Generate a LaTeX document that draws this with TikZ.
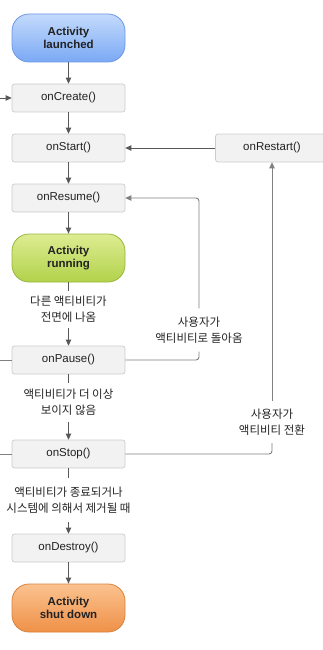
\documentclass[tikz,border=0pt]{standalone}
\usepackage{fontspec}
\setmainfont{Liberation Sans}
\newfontfamily\kr{Noto Sans CJK KR}
\usetikzlibrary{arrows.meta}
\definecolor{boxfill}{HTML}{F2F2F2}
\definecolor{boxline}{HTML}{CCCCCC}
\definecolor{arrgray}{HTML}{585858}
\definecolor{loopgray}{HTML}{808080}
\definecolor{txt}{HTML}{222222}
\definecolor{blueT}{HTML}{C4DAFC}
\definecolor{blueB}{HTML}{7AA9F4}
\definecolor{blueD}{HTML}{6C98E4}
\definecolor{greenT}{HTML}{DDEC92}
\definecolor{greenB}{HTML}{B2D24A}
\definecolor{greenD}{HTML}{98B640}
\definecolor{orangeT}{HTML}{FBC28F}
\definecolor{orangeB}{HTML}{EF9148}
\definecolor{orangeD}{HTML}{D8823E}
\tikzset{
  box/.style={draw=boxline, fill=boxfill, rounded corners=2.5pt, line width=0.7pt,
    minimum width=113pt, minimum height=28pt, inner sep=0pt, text=txt,
    font=\fontsize{11.5}{13}\selectfont},
  pill/.style={rounded corners=17pt, line width=0.8pt, minimum width=113pt,
    minimum height=48pt, inner sep=0pt, align=center, text=txt,
    font=\bfseries\fontsize{11.5}{13}\selectfont},
  lbl/.style={font=\kr\fontsize{11.5}{16}\selectfont, align=center, inner sep=0pt, text=txt},
  arr/.style={draw=arrgray, line width=0.9pt, -{Triangle[length=6pt,width=5.5pt]}},
  seg/.style={draw=arrgray, line width=0.9pt},
  looparr/.style={draw=loopgray, line width=0.9pt, rounded corners=3pt, -{Triangle[length=6pt,width=5.5pt]}},
  loopseg/.style={draw=loopgray, line width=0.9pt, rounded corners=3pt}
}
\begin{document}
\begin{tikzpicture}[x=1pt,y=-1pt]
\useasboundingbox (0,0) rectangle (323,650);
\node[pill, draw=blueD, top color=blueT, bottom color=blueB] (launched) at (68.5,38) {Activity\\launched};
\node[box] (create) at (68.5,98) {onCreate()};
\node[box] (start) at (68.5,148) {onStart()};
\node[box] (resume) at (68.5,198) {onResume()};
\node[pill, draw=greenD, top color=greenT, bottom color=greenB] (running) at (68.5,258) {Activity\\running};
\node[lbl, minimum height=37pt] (l1) at (68.5,309.5) {다른 액티비티가\\전면에 나옴};
\node[box] (pause) at (68.5,360) {onPause()};
\node[lbl, minimum height=39pt] (l2) at (68.5,402.5) {액티비티가 더 이상\\보이지 않음};
\node[box] (stop) at (68.5,454) {onStop()};
\node[lbl, minimum height=44pt] (l3) at (68.5,500) {액티비티가 종료되거나\\시스템에 의해서 제거될 때};
\node[box] (destroy) at (68.5,548) {onDestroy()};
\node[pill, draw=orangeD, top color=orangeT, bottom color=orangeB] (shut) at (68.5,608) {Activity\\shut down};
\node[box] (restart) at (272,148) {onRestart()};
\node[lbl, minimum height=43pt] (l4) at (199,330) {사용자가\\액티비티로 돌아옴};
\node[lbl, minimum height=42pt] (l5) at (272,422) {사용자가\\액티비티 전환};
\coordinate (inC) at (0,98);
\coordinate (outP) at (0,360);
\coordinate (outS) at (0,454);

\draw[arr] (launched) -- (create);
\draw[arr] (create) -- (start);
\draw[arr] (start) -- (resume);
\draw[arr] (resume) -- (running);
\draw[seg] (running) -- (l1);
\draw[arr] (l1) -- (pause);
\draw[seg] (pause) -- (l2);
\draw[arr] (l2) -- (stop);
\draw[seg] (stop) -- (l3);
\draw[arr] (l3) -- (destroy);
\draw[arr] (destroy) -- (shut);
\draw[arr] (inC) -- (create.west);
\draw[loopseg] (pause.west) -- (outP);
\draw[loopseg] (stop.west) -- (outS);
\draw[arr] (restart.west) -- (start.east);
\draw[loopseg] (pause.east) -| (l4.south);
\draw[looparr] (l4.north) |- (resume.east);
\draw[loopseg] (stop.east) -| (l5.south);
\draw[looparr] (l5.north) -- (restart.south);
\end{tikzpicture}
\end{document}
